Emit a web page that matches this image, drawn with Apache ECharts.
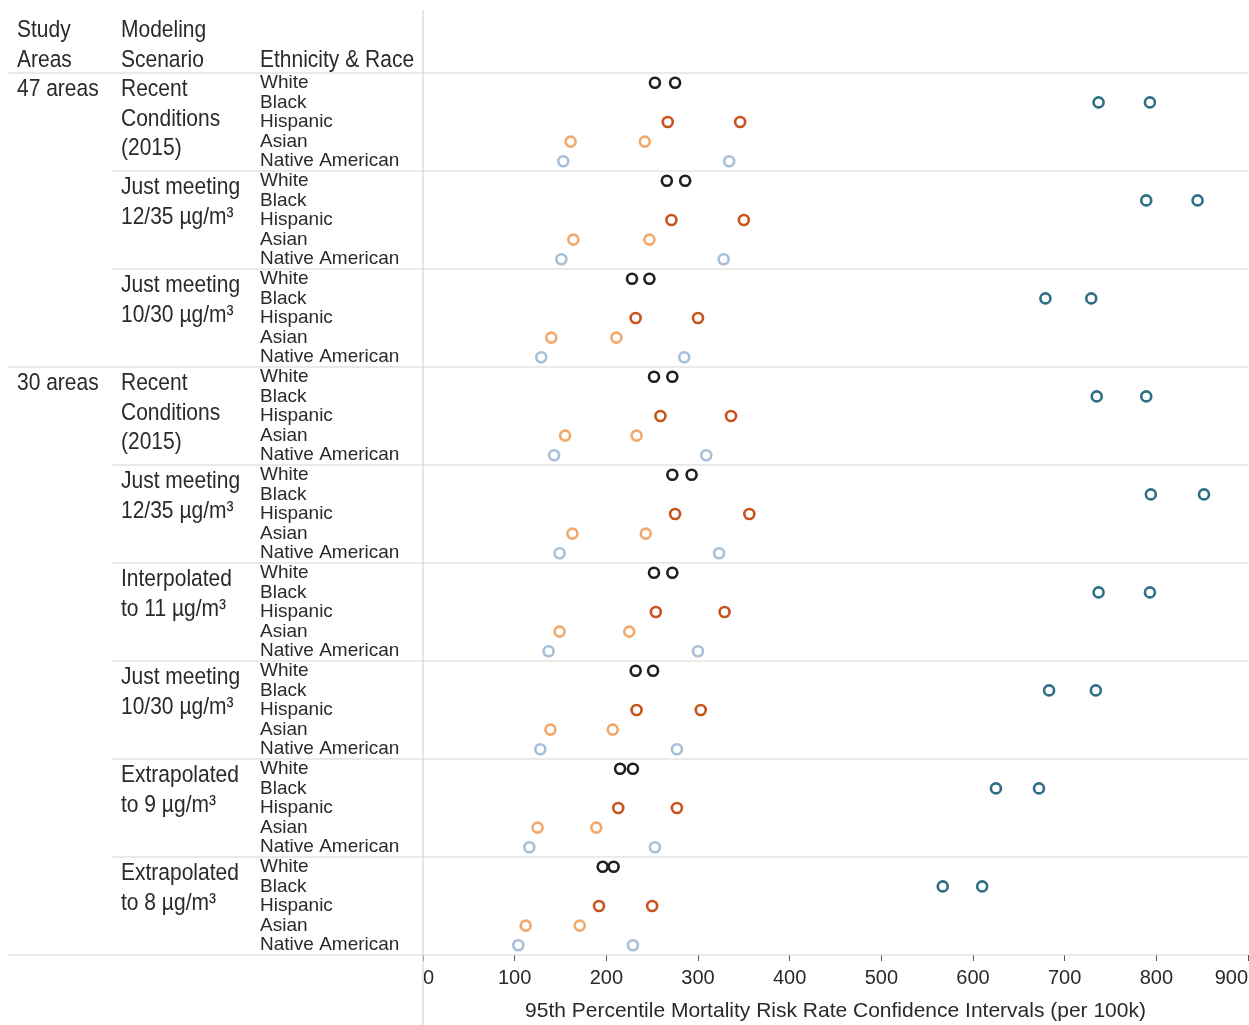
<!DOCTYPE html>
<html><head><meta charset="utf-8">
<script src="https://cdn.jsdelivr.net/npm/echarts@6/dist/echarts.min.js"></script>
<style>html,body{margin:0;padding:0;background:#fff}#c{width:1249px;height:1025px}</style>
</head><body><div id="c"></div>
<script>
// ---------- data ----------
const ethnicities = ['White', 'Black', 'Hispanic', 'Asian', 'Native American'];
const studyAreas = ['47 areas', '30 areas'];
const studyAreaStart = [0, 3]; // scenario index where each study area starts
const scenarios = [
  'Recent\nConditions\n(2015)',
  'Just meeting\n12/35 µg/m³',
  'Just meeting\n10/30 µg/m³',
  'Recent\nConditions\n(2015)',
  'Just meeting\n12/35 µg/m³',
  'Interpolated\nto 11 µg/m³',
  'Just meeting\n10/30 µg/m³',
  'Extrapolated\nto 9 µg/m³',
  'Extrapolated\nto 8 µg/m³'
];
const headers = ['Study\nAreas', 'Modeling\nScenario', 'Ethnicity & Race'];
const axisTitle = '95th Percentile Mortality Risk Rate Confidence Intervals (per 100k)';
const xMin = 0, xMax = 900, xStep = 100;

// lower / upper bound per scenario (order as scenarios)
const whiteLow     = [253, 266, 228, 252, 272, 252, 232, 215, 196];
const whiteHigh    = [275, 286, 247, 272, 293, 272, 251, 229, 208];
const blackLow     = [737, 789, 679, 735, 794, 737, 683, 625, 567];
const blackHigh    = [793, 845, 729, 789, 852, 793, 734, 672, 610];
const hispanicLow  = [267, 271, 232, 259, 275, 254, 233, 213, 192];
const hispanicHigh = [346, 350, 300, 336, 356, 329, 303, 277, 250];
const asianLow     = [161, 164, 140, 155, 163, 149, 139, 125, 112];
const asianHigh    = [242, 247, 211, 233, 243, 225, 207, 189, 171];
const nativeLow    = [153, 151, 129, 143, 149, 137, 128, 116, 104];
const nativeHigh   = [334, 328, 285, 309, 323, 300, 277, 253, 229];

const colors = ['#1f1f1f', '#2f6f86', '#c9531d', '#f2a86a', '#a9bfd8'];
const lows  = [whiteLow, blackLow, hispanicLow, asianLow, nativeLow];
const highs = [whiteHigh, blackHigh, hispanicHigh, asianHigh, nativeHigh];

// ---------- build ----------
const nEth = ethnicities.length;
const rows = [];
for (let s = 0; s < scenarios.length; s++) for (let e = 0; e < nEth; e++) rows.push('r' + (s * nEth + e));

const FONT = "'Liberation Sans', Arial, sans-serif";
const TXT = '#2a2a2a';
const LINE = '#d6d6d6';

const series = ethnicities.map((name, e) => {
  const data = [];
  for (let s = 0; s < scenarios.length; s++) {
    data.push([lows[e][s], s * nEth + e]);
    data.push([highs[e][s], s * nEth + e]);
  }
  return {
    name, type: 'scatter', data, symbol: 'circle', symbolSize: 10,
    itemStyle: { color: '#fff', borderColor: colors[e], borderWidth: 2.6, opacity: 1 },
    emphasis: { disabled: true }, z: 5
  };
});

const chart = echarts.init(document.getElementById('c'), null, { renderer: 'canvas' });
chart.setOption({
  animation: false,
  backgroundColor: '#fff',
  grid: { left: 423, right: 1, top: 73, bottom: 70, containLabel: false, outerBoundsMode: 'none' },
  xAxis: {
    type: 'value', min: xMin, max: xMax, interval: xStep,
    axisLine: { show: false },
    axisTick: { show: true, length: 6, lineStyle: { color: '#555' } },
    splitLine: { show: false },
    axisLabel: { color: TXT, fontFamily: FONT, fontSize: 20, margin: 13, alignMinLabel: 'left', alignMaxLabel: 'right' },
    name: axisTitle, nameLocation: 'middle', nameGap: 46,
    nameTextStyle: { color: TXT, fontFamily: FONT, fontSize: 21 }
  },
  yAxis: {
    type: 'category', data: rows, inverse: true,
    axisLine: { show: false }, axisTick: { show: false }, splitLine: { show: false },
    axisLabel: {
      interval: 0, hideOverlap: false,
      align: 'left', margin: 163, color: TXT, fontFamily: FONT, fontSize: 19, lineHeight: 19,
      formatter: (v) => ethnicities[parseInt(v.slice(1)) % nEth]
    }
  },
  series
});

// ---------- table frame & left text ----------
const p0 = chart.convertToPixel({ yAxisIndex: 0 }, 0);
const p1 = chart.convertToPixel({ yAxisIndex: 0 }, 1);
const band = p1 - p0;
const rowTop = (i) => chart.convertToPixel({ yAxisIndex: 0 }, i) - band / 2;
const gLeft = chart.convertToPixel({ xAxisIndex: 0 }, xMin);
const gRight = chart.convertToPixel({ xAxisIndex: 0 }, xMax);

const g = [];
const hline = (x1, y, x2) => g.push({ type: 'line', shape: { x1, y1: y, x2, y2: y }, style: { stroke: LINE, lineWidth: 1.2 }, z: 1 });
const text = (t, x, y) => g.push({ type: 'text', x, y, scaleY: 1.15, style: { text: t, fill: TXT, font: '21px ' + FONT, lineHeight: 26, verticalAlign: 'top', align: 'left' }, z: 3 });

// vertical divider
g.push({ type: 'line', shape: { x1: gLeft, y1: 10, x2: gLeft, y2: 1025 }, style: { stroke: LINE, lineWidth: 1.2 }, z: 1 });
// header line
hline(8, rowTop(0), gRight);
// section separators
for (let s = 1; s <= scenarios.length; s++) {
  const y = rowTop(s * nEth);
  const isAreaStart = studyAreaStart.indexOf(s) >= 0 || s === scenarios.length;
  hline(isAreaStart ? 8 : 112, y, gRight);
}
// headers
text(headers[0], 17, 15);
text(headers[1], 121, 15);
text(headers[2], 260, 45);
// study areas
studyAreas.forEach((a, i) => text(a, 17, rowTop(studyAreaStart[i] * nEth) + 1));
// scenarios
scenarios.forEach((sc, s) => text(sc, 121, rowTop(s * nEth) + 1));

chart.setOption({ graphic: g });
</script>
</body></html>
